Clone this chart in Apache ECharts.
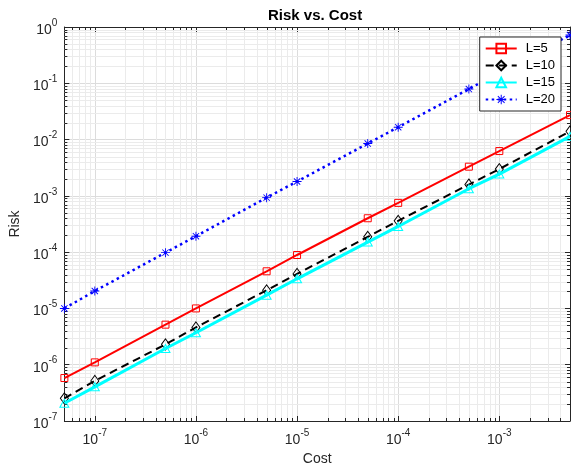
<!DOCTYPE html>
<html>
<head>
<meta charset="utf-8">
<script src="https://cdn.jsdelivr.net/npm/echarts@6/dist/echarts.min.js"></script>
<style>
html,body{margin:0;padding:0;background:#fff;}
#chart{width:571px;height:471px;}
</style>
</head>
<body>
<div id="chart"></div>
<script>
var costs = [5e-8, 1e-7, 5e-7, 1e-6, 5e-6, 1e-5, 5e-5, 1e-4, 5e-4, 1e-3, 5e-3];
var riskL5  = [5.8e-7, 1.10e-6, 5.15e-6, 1.0e-5, 4.57e-5, 8.9e-5, 4.0e-4, 7.5e-4, 3.3e-3, 6.25e-3, 0.0272];
var riskL10 = [2.53e-7, 5.15e-7, 2.3e-6, 4.6e-6, 2.1e-5, 4.1e-5, 1.87e-4, 3.6e-4, 1.59e-3, 2.99e-3, 0.014];
var riskL15 = [2.07e-7, 4.05e-7, 1.94e-6, 3.7e-6, 1.72e-5, 3.36e-5, 1.51e-4, 2.86e-4, 1.34e-3, 2.44e-3, 0.0114];
var riskL20 = [1e-5, 2.04e-5, 9.8e-5, 1.92e-4, 9.3e-4, 1.8e-3, 8.5e-3, 0.0166, 0.079, 0.157, 0.72];
var seriesNames = ['L=5', 'L=10', 'L=15', 'L=20'];
var xRange = [5e-8, 5e-3];
var yRange = [1e-7, 1];
var xDecades = [-8, -7, -6, -5, -4, -3];
var yDecades = [-7, -6, -5, -4, -3, -2, -1];
var minorMultipliers = [2, 3, 4, 5, 6, 7, 8, 9];

function minorValues(decades, range) {
  var out = [];
  decades.forEach(function (e) {
    minorMultipliers.forEach(function (m) {
      var v = m * Math.pow(10, e);
      if (v > range[0] * 1.0001 && v < range[1] * 0.9999) out.push(v);
    });
  });
  return out;
}
var xMinor = minorValues(xDecades, xRange);
var yMinor = minorValues(yDecades, yRange);

function pair(ys) { return costs.map(function (c, i) { return [c, ys[i]]; }); }

var FONT = 'Liberation Sans, Arial, Helvetica, sans-serif';
var AX = '#262626';
var rich = {
  b: { fontSize: 14, fontFamily: FONT, color: AX, padding: [6, 0, 0, 0] },
  s: { fontSize: 10, fontFamily: FONT, color: AX, padding: [0, 0, 8, 0] }
};
function powLabel(v) {
  var l = Math.log10(v);
  var e = Math.round(l);
  if (Math.abs(l - e) > 1e-6) return '';
  return '{b|10}{s|' + e + '}';
}

var asterisk = 'path://M-1,-10h2v20h-2z M-10,-1h20v2h-20z M-6.3,-7.7L7.7,6.3L6.3,7.7L-7.7,-6.3z M7.7,-6.3L-6.3,7.7L-7.7,6.3L6.3,-7.7z';

var chart = echarts.init(document.getElementById('chart'), null, { renderer: 'canvas' });
var option = {
  backgroundColor: '#fff',
  animation: false,
  title: {
    text: 'Risk vs. Cost',
    left: 263, top: 3,
    textStyle: { fontSize: 15, fontWeight: 'bold', fontFamily: FONT, color: '#000' }
  },
  legend: {
    data: seriesNames,
    orient: 'vertical',
    right: 10, top: 37,
    z: 20,
    padding: [5, 6, 5, 5],
    itemGap: 4,
    itemWidth: 31,
    itemHeight: 12,
    backgroundColor: '#fff',
    borderColor: AX,
    borderWidth: 1,
    textStyle: { fontSize: 13, fontFamily: FONT, color: '#000', padding: [0, 0, 0, 4] }
  },
  grid: { left: 60, right: 1, top: 27, bottom: 42, containLabel: false },
  xAxis: [{
    type: 'log', min: xRange[0], max: xRange[1],
    name: 'Cost', nameLocation: 'middle', nameGap: 31,
    nameTextStyle: { fontSize: 14, fontFamily: FONT, color: AX },
    axisLine: { show: true, lineStyle: { color: AX, width: 1 } },
    axisTick: { show: true, inside: true, length: 5, lineStyle: { color: AX } },
    axisLabel: { formatter: powLabel, rich: rich, margin: 6, showMinLabel: false, showMaxLabel: false },
    splitLine: { show: true, lineStyle: { color: '#dcdcdc', width: 1 } }
  }, {
    type: 'log', min: xRange[0], max: xRange[1], position: 'top',
    axisLine: { show: true, lineStyle: { color: AX, width: 1 } },
    axisTick: { show: true, inside: true, length: 5, lineStyle: { color: AX } },
    axisLabel: { show: false },
    splitLine: { show: false }
  }],
  yAxis: [{
    type: 'log', min: yRange[0], max: yRange[1],
    name: 'Risk', nameLocation: 'middle', nameGap: 31,
    nameTextStyle: { fontSize: 14, fontFamily: FONT, color: AX },
    axisLine: { show: true, lineStyle: { color: AX, width: 1 } },
    axisTick: { show: true, inside: true, length: 5, lineStyle: { color: AX } },
    axisLabel: { formatter: powLabel, rich: rich, margin: 7 },
    splitLine: { show: true, lineStyle: { color: '#dcdcdc', width: 1 } }
  }, {
    type: 'log', min: yRange[0], max: yRange[1], position: 'right',
    axisLine: { show: true, lineStyle: { color: AX, width: 1 } },
    axisTick: { show: true, inside: true, length: 5, lineStyle: { color: AX } },
    axisLabel: { show: false },
    splitLine: { show: false }
  }],
  series: [
    {
      type: 'custom', silent: true, z: 1, xAxisIndex: 0, yAxisIndex: 0,
      data: xMinor.map(function (v) { return [v, yRange[0]]; }),
      renderItem: function (params, api) {
        var p = api.coord([api.value(0), api.value(1)]);
        var cs = params.coordSys;
        var x = Math.round(p[0]) + 0.5;
        return { type: 'group', children: [
          { type: 'line', shape: { x1: x, y1: cs.y, x2: x, y2: cs.y + cs.height }, style: { stroke: '#ebebeb', lineWidth: 1 } },
          { type: 'line', shape: { x1: x, y1: cs.y + cs.height, x2: x, y2: cs.y + cs.height - 3 }, style: { stroke: AX, lineWidth: 1 } },
          { type: 'line', shape: { x1: x, y1: cs.y, x2: x, y2: cs.y + 3 }, style: { stroke: AX, lineWidth: 1 } }
        ] };
      }
    },
    {
      type: 'custom', silent: true, z: 1, xAxisIndex: 0, yAxisIndex: 0,
      data: yMinor.map(function (v) { return [xRange[0], v]; }),
      renderItem: function (params, api) {
        var p = api.coord([api.value(0), api.value(1)]);
        var cs = params.coordSys;
        var y = Math.round(p[1]) + 0.5;
        return { type: 'group', children: [
          { type: 'line', shape: { x1: cs.x, y1: y, x2: cs.x + cs.width, y2: y }, style: { stroke: '#ebebeb', lineWidth: 1 } },
          { type: 'line', shape: { x1: cs.x, y1: y, x2: cs.x + 3, y2: y }, style: { stroke: AX, lineWidth: 1 } },
          { type: 'line', shape: { x1: cs.x + cs.width, y1: y, x2: cs.x + cs.width - 3, y2: y }, style: { stroke: AX, lineWidth: 1 } }
        ] };
      }
    },
    {
      name: seriesNames[0], type: 'line', data: pair(riskL5), z: 3,
      symbol: 'rect', symbolSize: 7, showAllSymbol: true,
      lineStyle: { color: '#ff0000', width: 2 },
      itemStyle: { color: 'rgba(255,255,255,0)', borderColor: '#ff0000', borderWidth: 1 }
    },
    {
      name: seriesNames[1], type: 'line', data: pair(riskL10), z: 4,
      symbol: 'diamond', symbolSize: [8, 11], showAllSymbol: true,
      lineStyle: { color: '#000000', width: 2, type: [8, 5] },
      itemStyle: { color: 'rgba(255,255,255,0)', borderColor: '#000000', borderWidth: 1 }
    },
    {
      name: seriesNames[2], type: 'line', data: pair(riskL15), z: 5,
      symbol: 'triangle', symbolSize: [9, 8], showAllSymbol: true,
      lineStyle: { color: '#00ffff', width: 3 },
      itemStyle: { color: 'rgba(255,255,255,0)', borderColor: '#00ffff', borderWidth: 1 }
    },
    {
      name: seriesNames[3], type: 'line', data: pair(riskL20), z: 6,
      symbol: asterisk, symbolSize: 9, showAllSymbol: true,
      lineStyle: { color: '#0000ff', width: 2.5, type: [2.5, 3.5] },
      itemStyle: { color: '#0000ff' }
    }
  ]
};
chart.setOption(option);
</script>
</body>
</html>
